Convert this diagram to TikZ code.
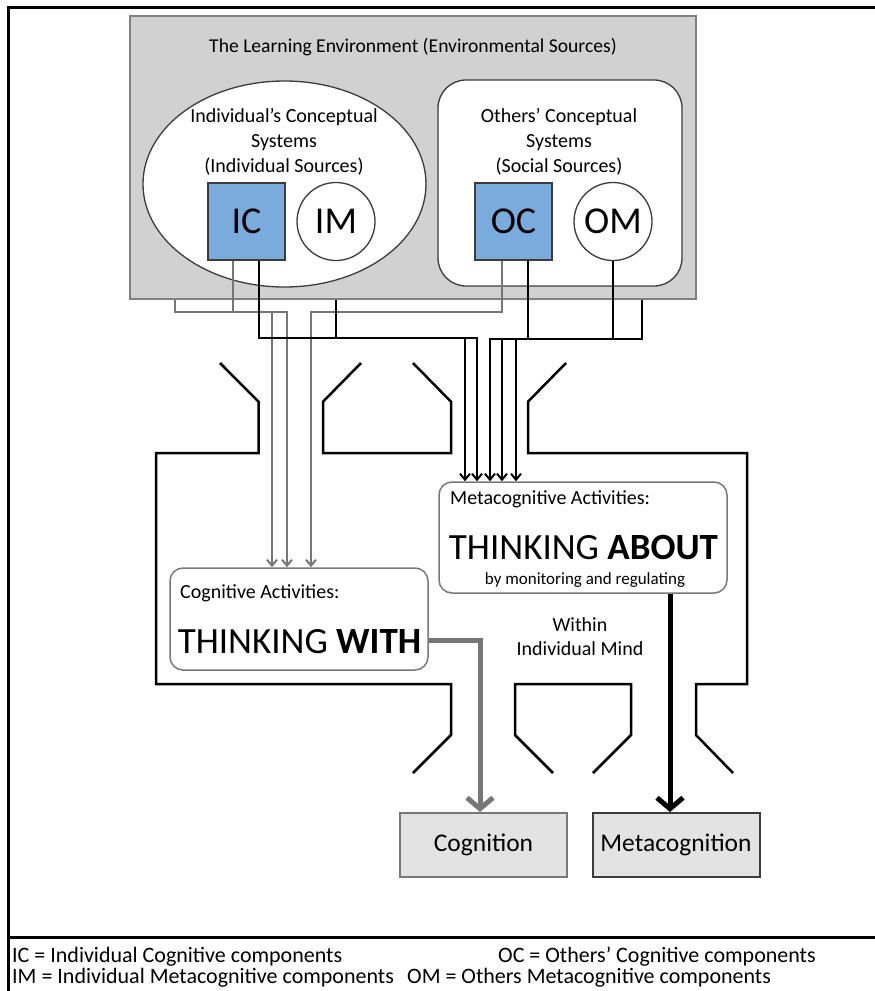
\documentclass[tikz,border=0pt]{standalone}
\usepackage{fontspec}
\setmainfont{Carlito}
\usetikzlibrary{arrows.meta,shapes.geometric}
\definecolor{envfill}{RGB}{209,209,209}
\definecolor{envline}{RGB}{128,128,128}
\definecolor{darkline}{RGB}{60,60,60}
\definecolor{compblue}{RGB}{121,172,221}
\definecolor{cogline}{RGB}{118,118,118}
\definecolor{actline}{RGB}{120,120,120}
\definecolor{outfill}{RGB}{227,227,227}
\newcommand{\setfs}[2]{\fontsize{#1}{#2}\selectfont}

\begin{document}
\begin{tikzpicture}[x=1pt,y=-1pt,
  envbox/.style={draw=envline, fill=envfill, line width=2pt, inner sep=0pt},
  conceptbox/.style={draw=darkline, fill=white, line width=1.3pt, inner sep=0pt},
  compbox/.style={draw=darkline, fill=compblue, line width=1.3pt, minimum size=77pt, inner sep=0pt, font=\setfs{38}{38}},
  compcirc/.style={draw=darkline, fill=white, line width=1.3pt, circle, minimum size=78pt, inner sep=0pt, font=\setfs{38}{38}},
  actbox/.style={draw=actline, fill=white, line width=1.5pt, rounded corners=13pt, inner sep=0pt},
  outbox/.style={fill=outfill, line width=2pt, minimum width=167pt, minimum height=64pt, inner sep=0pt, font=\setfs{25.5}{26}},
  txt/.style={inner sep=0pt, font=\setfs{20}{25}, align=center},
  cogflow/.style={draw=cogline, line width=2pt, -{Straight Barb[length=6pt,width=10pt]}},
  metaflow/.style={draw=black, line width=2pt, -{Straight Barb[length=6pt,width=10pt]}},
  mindwall/.style={draw=black, line width=2.5pt, line join=miter},
  frameline/.style={draw=black, line width=3pt},
  legend/.style={inner sep=0pt, anchor=west, font=\setfs{22}{24}}
]
\useasboundingbox (0,0) rectangle (875,991);

% outer frame and legend separator
\draw[frameline] (8,991) -- (8,7.5) -- (875,7.5);
\draw[frameline] (8,937) -- (875,937);

% the learning environment
\node[envbox, minimum width=566pt, minimum height=283pt] (env) at (413,157.5) {};
\node[txt, font=\setfs{19.6}{24}] (title) at (413,47) {The Learning Environment (Environmental Sources)};

% individual's conceptual systems
\node[conceptbox, ellipse, minimum width=283pt, minimum height=206pt] (indiv) at (284.5,184) {};
\node[txt] (indivtxt) at (284,142) {Individual’s Conceptual\\Systems\\(Individual Sources)};
\node[compbox] (ic) at (246.5,221.5) {IC};
\node[compcirc] (im) at (336,221.5) {IM};

% others' conceptual systems
\node[conceptbox, rounded corners=28pt, minimum width=244pt, minimum height=206pt] (others) at (560,183) {};
\node[txt] (otherstxt) at (559,142) {Others’ Conceptual\\Systems\\(Social Sources)};
\node[compbox] (oc) at (513.5,221.5) {OC};
\node[compcirc] (om) at (613,221.5) {OM};

% the individual mind with its funnels
\draw[mindwall] (220,363) -- (258.6,401.7) -- (258.6,453) -- (156,453) -- (156,684)
  -- (451,684) -- (451,735) -- (413,773);
\draw[mindwall] (361,363) -- (323,401.7) -- (323,453) -- (451,453) -- (451,401.7) -- (413,363);
\draw[mindwall] (566,363) -- (528,401.7) -- (528,453) -- (747,453) -- (747,684)
  -- (696,684) -- (696,735) -- (733,773);
\draw[mindwall] (553,773) -- (515,735) -- (515,684) -- (631,684) -- (631,735) -- (593,773);

% activities
\node[actbox, minimum width=288pt, minimum height=111pt] (meta) at (583,537.5) {};
\node[txt, anchor=west, font=\setfs{20}{22}] (metahead) at (450,499) {Metacognitive Activities:};
\node[txt, font=\setfs{37}{37}] (metabig) at (583.5,547) {THINKING \textbf{ABOUT}};
\node[txt, font=\setfs{17}{20}] (metasub) at (585,580) {by monitoring and regulating};

\node[actbox, minimum width=258pt, minimum height=102pt] (cog) at (299,619) {};
\node[txt, anchor=west, font=\setfs{20}{22}] (coghead) at (180,593) {Cognitive Activities:};
\node[txt, font=\setfs{37}{37}] (cogbig) at (299.5,642) {THINKING \textbf{WITH}};

\node[txt, font=\setfs{20}{24}] (mind) at (580,637) {Within\\Individual Mind};

% outcomes
\node[outbox, draw=actline] (cogn) at (483.5,845) {Cognition};
\node[outbox, draw=darkline] (metan) at (676,845) {Metacognition};

% cognitive sources into thinking with
\draw[cogflow] ([xshift=-238pt]env.south) -- ++(0,12) -| ([xshift=-12pt]cog.north);
\draw[cogflow] ([xshift=-13.5pt]ic.south) -- ++(0,51) -| ([xshift=-27pt]cog.north);
\draw[cogflow] ([xshift=-11.5pt]oc.south) -- ++(0,51) -| ([xshift=12pt]cog.north);

% metacognitive sources into thinking about
\draw[metaflow] ([xshift=12.5pt]ic.south) -- ++(0,77) -| ([xshift=-106pt]meta.north);
\draw[metaflow] ([xshift=-77pt]env.south) -- ++(0,38) -| ([xshift=-118pt]meta.north);
\draw[metaflow] ([xshift=14.5pt]oc.south) -- ++(0,78) -| ([xshift=-93pt]meta.north);
\draw[metaflow] (om.south) -- ++(0,77.5) -| ([xshift=-81pt]meta.north);
\draw[metaflow] ([xshift=229pt]env.south) -- ++(0,39) -| ([xshift=-67pt]meta.north);

% outputs of the mind
\draw[draw=cogline, line width=5pt, -{Straight Barb[length=11pt,width=26pt]}]
  ([yshift=-21pt]cog.east) -| ([xshift=-3.5pt]cogn.north);
\draw[draw=black, line width=5pt, -{Straight Barb[length=11pt,width=26pt]}]
  ([xshift=87pt]meta.south) -- ([xshift=-6pt]metan.north);

% legend
\node[legend] (legic) at (12,957) {IC = Individual Cognitive components};
\node[legend] (legoc) at (498,957) {OC = Others’ Cognitive components};
\node[legend] (legim) at (12,978) {IM = Individual Metacognitive components};
\node[legend] (legom) at (407,978) {OM = Others Metacognitive components};
\end{tikzpicture}
\end{document}
